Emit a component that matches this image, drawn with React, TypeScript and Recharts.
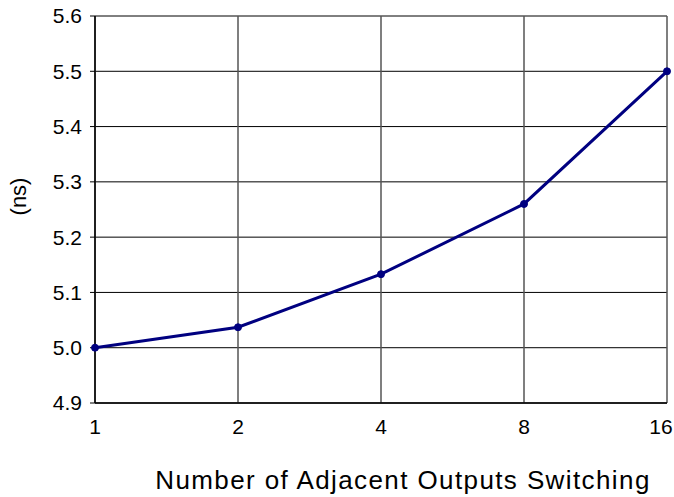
import React from 'react';
import { LineChart, Line, XAxis, YAxis, CartesianGrid, Label } from 'recharts';

const switching = ['1', '2', '4', '8', '16'];
const delayNs = [5.0, 5.037, 5.133, 5.26, 5.5];
const yTicks = [4.9, 5.0, 5.1, 5.2, 5.3, 5.4, 5.5, 5.6];

const data = switching.map((label, i) => ({ label, delay: delayNs[i] }));

const font = '"Liberation Sans", Arial, sans-serif';

// last category label sits a little inside the right edge, like the original
const XTick = (props: any) => {
  const { x, y, payload, index } = props;
  const shift = index === switching.length - 1 ? -6 : 0;
  return (
    <text x={x + shift} y={y} dy="0.71em" textAnchor="middle" fontSize={21} fontFamily={font} fill="#000">
      {payload.value}
    </text>
  );
};

export default function App() {
  return (
    <div style={{ position: 'absolute', left: 0, top: 0, width: 674, height: 497, background: '#fff' }}>
      <LineChart width={674} height={497} data={data} margin={{ top: 16, right: 7, bottom: 0, left: 0 }}>
        <CartesianGrid vertical={false} stroke="#000" strokeWidth={1} />
        <CartesianGrid horizontal={false} stroke="#555" strokeWidth={1.5} />
        <XAxis
          dataKey="label"
          height={94}
          axisLine={{ stroke: '#000', strokeWidth: 1.5 }}
          tickLine={false}
          tickSize={0}
          tickMargin={16}
          tick={<XTick />}
          interval={0}
        >
          <Label
            value="Number of Adjacent Outputs Switching"
            position="insideBottom"
            offset={8}
            dx={22}
            style={{ fontSize: 26, letterSpacing: 1.4, fill: '#000', fontFamily: font }}
          />
        </XAxis>
        <YAxis
          width={95}
          domain={[4.9, 5.6]}
          ticks={yTicks}
          tickFormatter={(v) => Number(v).toFixed(1)}
          axisLine={{ stroke: '#000', strokeWidth: 1.5 }}
          tickLine={{ stroke: '#000' }}
          tickSize={5}
          tickMargin={8}
          tick={{ fontSize: 21, fill: '#000', fontFamily: font }}
          interval={0}
        >
          <Label
            content={() => (
              <text
                x={18.5}
                y={196.5}
                transform="rotate(-90 18.5 196.5)"
                textAnchor="middle"
                dominantBaseline="central"
                fontSize={22}
                fontFamily={font}
                fill="#000"
              >
                (ns)
              </text>
            )}
          />
        </YAxis>
        <Line
          type="linear"
          dataKey="delay"
          stroke="#000080"
          strokeWidth={3}
          dot={{ r: 3.5, fill: '#000080', stroke: '#000080', strokeWidth: 1 }}
          isAnimationActive={false}
        />
      </LineChart>
    </div>
  );
}
